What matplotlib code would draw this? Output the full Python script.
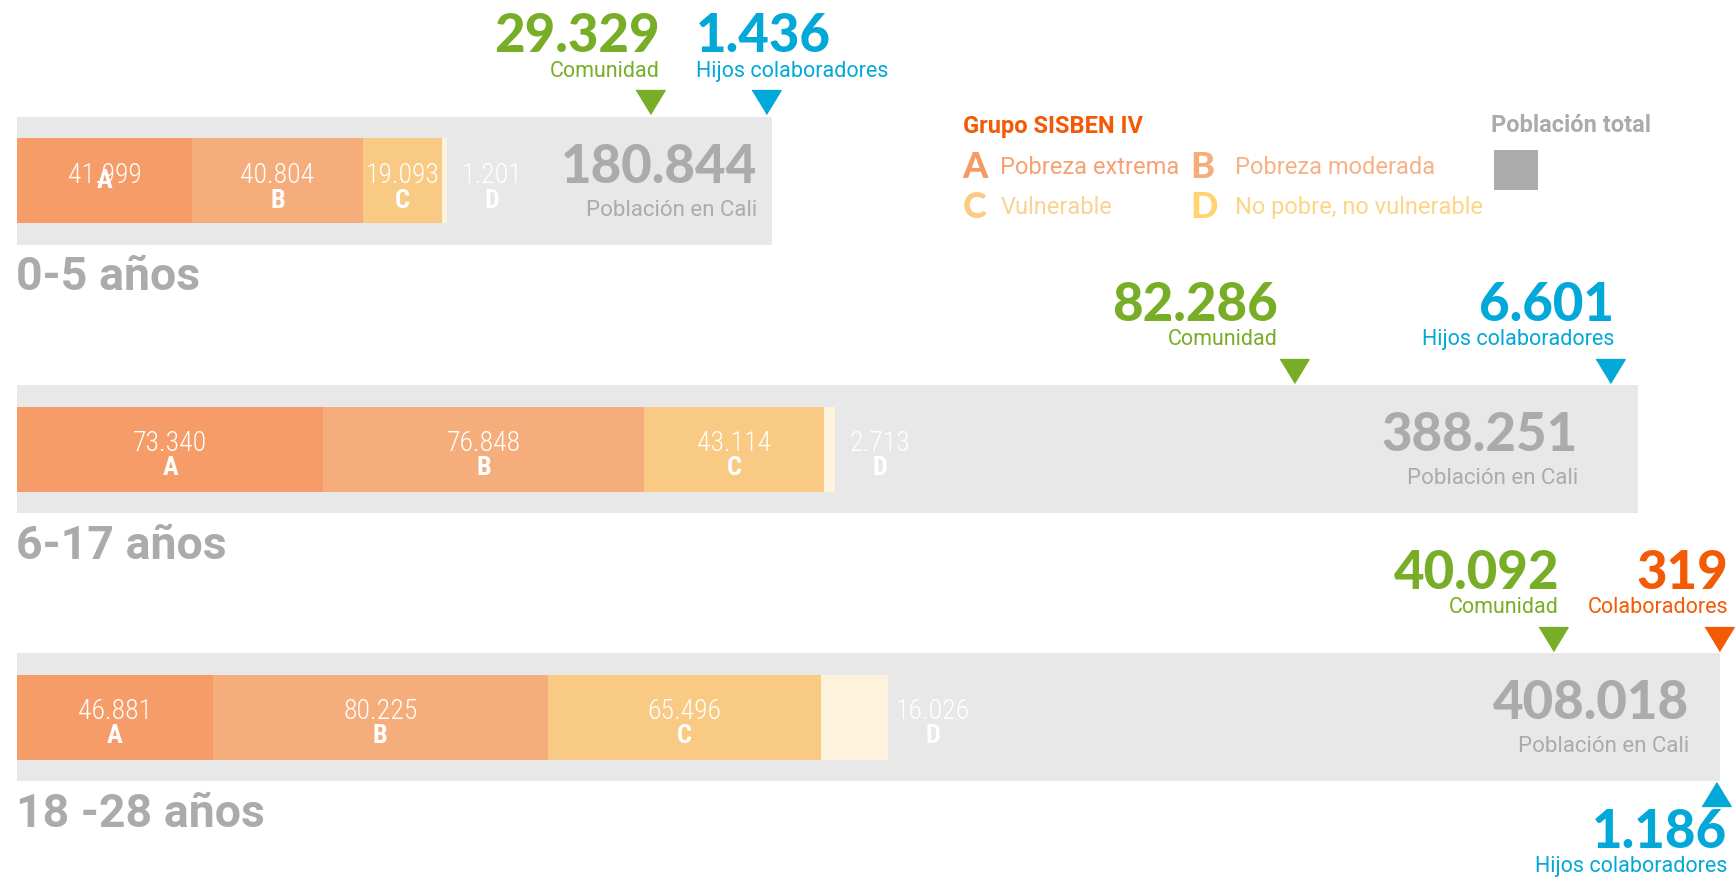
import matplotlib
matplotlib.use("Agg")
import matplotlib.pyplot as plt
from matplotlib import font_manager
from matplotlib.patches import Rectangle

# data read from the infographic
groups = ["0-5 años", "6-17 años", "18 -28 años"]
poblacion_total = [180844, 388251, 408018]
grupo_a = [41999, 73340, 46881]
grupo_b = [40804, 76848, 80225]
grupo_c = [19093, 43114, 65496]
grupo_d = [1201, 2713, 16026]
comunidad = [29329, 82286, 40092]
hijos_colaboradores = [1436, 6601, 1186]
colaboradores = [None, None, 319]
segment_letters = ["A", "B", "C", "D"]
legend_labels = ["Pobreza extrema", "Pobreza moderada", "Vulnerable", "No pobre, no vulnerable"]

# layout (figure pixels)
W, H = 1735, 879
LEFT_PX = 17
PX_PER_PERSON = 0.004175
ROW_Y = [181.5, 450, 718]
BOX_H, BAR_H = 128, 85
TOTAL_PAD = [15, 60, 31]
LETTER_DY = [(-1, 20, 20, 20), (18, 18, 18, 18), (18, 18, 18, 18)]

SEG_COLORS = ["#F69C69", "#F5AD7C", "#F8CA84", "#FDF3DC"]
LEGEND_COLORS = ["#F59A66", "#F5AD7C", "#FBCB86", "#FFD36E"]
LEGEND_TEXT = ["#F7A172", "#F6B286", "#FBD291", "#FDD584"]
GRAY_BOX = "#E8E8E8"
GRAY_TEXT = "#ABABAB"
GREEN = "#78AE27"
BLUE = "#02A8D8"
ORANGE = "#F25A05"

installed = {f.name for f in font_manager.fontManager.ttflist}


def pick(*candidates):
    return next((name for name in candidates if name in installed), "DejaVu Sans")


WIDE = pick("Lato", "Inter", "Open Sans")
COND = pick("Roboto Condensed", "Roboto", "Noto Sans")
TEXT = pick("Roboto", "Noto Sans")


def fmt(value):
    return f"{value:,}".replace(",", ".")


def dx(px):
    return px / PX_PER_PERSON


def xd(px):
    return (px - LEFT_PX) / PX_PER_PERSON


DOWN = [(-1, 0.82), (1, 0.82), (0, -0.82)]
UP = [(-1, -0.82), (1, -0.82), (0, 0.82)]

fig = plt.figure(figsize=(W / 100, H / 100), dpi=100)
ax = fig.add_axes([0, 0, 1, 1])
ax.set_xlim(xd(0), xd(W))
ax.set_ylim(H, 0)
ax.axis("off")

ax.barh(ROW_Y, poblacion_total, height=BOX_H, color=GRAY_BOX, zorder=1)
segments = [grupo_a, grupo_b, grupo_c, grupo_d]
left = [0, 0, 0]
for seg, color in zip(segments, SEG_COLORS):
    ax.barh(ROW_Y, seg, height=BAR_H, left=left, color=color, zorder=2)
    left = [l + v for l, v in zip(left, seg)]

for i, y in enumerate(ROW_Y):
    start = 0
    for j, seg in enumerate(segments):
        value = seg[i]
        if j < 3:
            x = start + value / 2
        else:
            x = start + value + dx(45)
        ax.text(x, y - 6, fmt(value), color="white", fontsize=20, family=COND,
                weight="light", ha="center", va="center", zorder=4)
        ax.text(x, y + LETTER_DY[i][j], segment_letters[j], color="white", fontsize=19,
                family=COND, weight="bold", ha="center", va="center", zorder=4)
        start += value

    total = poblacion_total[i]
    ax.text(total - dx(TOTAL_PAD[i]), y - 14, fmt(total), color=GRAY_TEXT, fontsize=38,
            family=WIDE, weight="black", ha="right", va="center", zorder=4)
    ax.text(total - dx(TOTAL_PAD[i]), y + 29, "Población en Cali", color=GRAY_TEXT,
            fontsize=16, family=TEXT, ha="right", va="center", zorder=4)
    ax.text(xd(15.5), y + BOX_H / 2 + 32, groups[i], color=GRAY_TEXT, fontsize=33.5,
            family=TEXT, weight="bold", ha="left", va="center")

# callouts: (row, series, label, colour, side, text alignment, text offset px)
callouts = [
    (0, comunidad, "Comunidad", GREEN, "above", "right", 10),
    (0, hijos_colaboradores, "Hijos colaboradores", BLUE, "above", "left", -70),
    (1, comunidad, "Comunidad", GREEN, "above", "right", -17),
    (1, hijos_colaboradores, "Hijos colaboradores", BLUE, "above", "right", 4),
    (2, comunidad, "Comunidad", GREEN, "above", "right", 6),
    (2, colaboradores, "Colaboradores", ORANGE, "above", "right", 9),
    (2, hijos_colaboradores, "Hijos colaboradores", BLUE, "below", "right", 12),
]
for row, series, label, color, side, ha, offset in callouts:
    value = series[row]
    x = poblacion_total[row] - value
    top = ROW_Y[row] - BOX_H / 2
    bottom = ROW_Y[row] + BOX_H / 2
    if side == "above":
        ax.plot([x], [top - 14.5], marker=DOWN, ms=21, color=color, ls="none", zorder=5)
        y_num, y_lab = top - 80.5, top - 46
    else:
        ax.plot([x], [bottom + 13.5], marker=UP, ms=21, color=color, ls="none", zorder=5)
        y_num, y_lab = bottom + 51, bottom + 85
    ax.text(x + dx(offset), y_num, fmt(value), color=color, fontsize=38, family=WIDE,
            weight="black", ha=ha, va="center")
    ax.text(x + dx(offset), y_lab, label, color=color, fontsize=15.5, family=TEXT,
            ha=ha, va="center")

# legend
ax.text(xd(962.6), 126, "Grupo SISBEN IV", color=ORANGE, fontsize=17, family=TEXT,
        weight="bold", ha="left", va="center")
ax.text(xd(1490.5), 126, "Población total", color=GRAY_TEXT, fontsize=17, family=TEXT,
        weight="bold", ha="left", va="center")
ax.add_patch(Rectangle((xd(1494), 150.5), dx(44), 40, color="#ABABAB", lw=0))
legend_pos = [(962.6, 1000.3, 167), (1190.6, 1234.8, 167), (962.6, 1000.3, 208), (1190.6, 1234.8, 208)]
for (lx, tx, ly), letter, label, c1, c2 in zip(legend_pos, segment_letters, legend_labels,
                                                LEGEND_COLORS, LEGEND_TEXT):
    ax.text(xd(lx), ly, letter, color=c1, fontsize=26, family=WIDE, weight="black",
            ha="left", va="center")
    ax.text(xd(tx), ly, label, color=c2, fontsize=17, family=TEXT, ha="left", va="center")

fig.savefig("out.png", dpi=100)
